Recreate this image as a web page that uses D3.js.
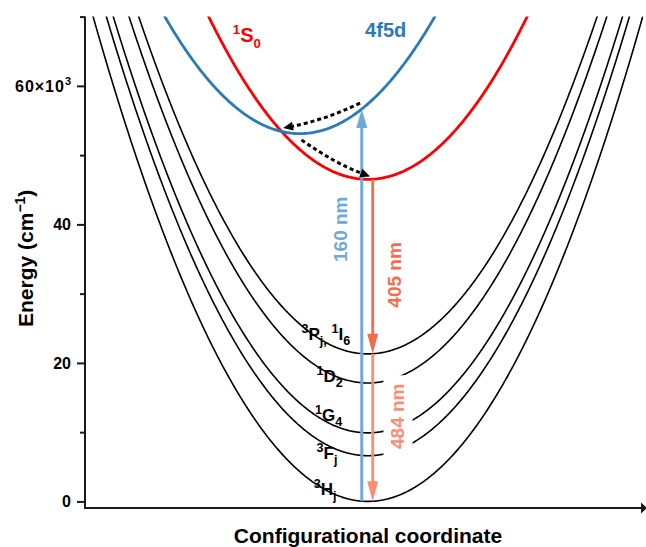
<!DOCTYPE html>
<html>
<head>
<meta charset="utf-8">
<script src="https://cdn.jsdelivr.net/npm/d3@7"></script>
<style>
  body { margin: 0; background: #fff; }
  svg { display: block; }
  text { font-family: Arial, "Liberation Sans", sans-serif; font-weight: bold; }
</style>
</head>
<body>
<svg id="chart" width="646" height="547"></svg>
<script>
// Configurational-coordinate diagram of Pr3+: harmonic potential curves.
// Energies in 10^3 cm^-1, coordinate in arbitrary units.
const groundLevels = ["3H", "3F", "1G", "1D", "3P"];
const groundMinima = [0, 6.6, 9.9, 17.1, 21.3];
const groundCentres = [5.07, 5.07, 5.07, 5.07, 5.07];

const excitedLevels = ["1S0", "4f5d"];
const excitedMinima = [46.5, 53.1];
const excitedCentres = [5.07, 3.85];

const curvature = 2.886;           // shared force constant, 10^3 cm^-1 per unit^2

const majorTicks = [0, 20, 40, 60];
const minorTicks = [10, 30, 50, 70];

// Vertical transitions: label, coordinate, lower level, upper level
const transitionNames = ["160 nm", "405 nm", "484 nm"];
const transitionCoords = [4.96, 5.156, 5.156];
const transitionLower = ["3H", "3P", "3H"];
const transitionUpper = ["4f5d", "1S0", "3P"];

// Non-radiative relaxation paths: start, bend and end as [coordinate, energy]
const relaxStart = [[4.93, 57.5], [3.88, 52.2]];
const relaxBend = [[4.30, 55.1], [4.46, 48.9]];
const relaxEnd = [[3.55, 53.9], [5.11, 46.9]];

// ---------------------------------------------------------------
const plot = { left: 85, right: 643, top: 16.6, bottom: 508 };

const svg = d3.select("#chart");
const x = d3.scaleLinear().domain([0, 10]).range([plot.left, plot.right]);
const y = d3.scaleLinear().domain([-0.95, 70]).range([plot.bottom, plot.top]);

const allLevels = {};
groundLevels.forEach((n, i) => allLevels[n] = { e0: groundMinima[i], q0: groundCentres[i] });
excitedLevels.forEach((n, i) => allLevels[n] = { e0: excitedMinima[i], q0: excitedCentres[i] });
const energy = (name, q) => allLevels[name].e0 + curvature * (q - allLevels[name].q0) ** 2;

svg.append("defs").append("clipPath").attr("id", "plotClip")
  .append("rect")
  .attr("x", plot.left).attr("y", plot.top)
  .attr("width", plot.right - plot.left).attr("height", plot.bottom - plot.top);

const qs = d3.range(0, 10.0001, 0.02);
const line = d3.line().x(d => x(d[0])).y(d => y(d[1]));
const curveData = name => qs.map(q => [q, energy(name, q)]).filter(d => d[1] < 75);

const curves = svg.append("g").attr("clip-path", "url(#plotClip)");

// 4f^2 levels
curves.selectAll("path.ground").data(groundLevels).join("path")
  .attr("class", "ground")
  .attr("d", n => line(curveData(n)))
  .attr("fill", "none").attr("stroke", "#000").attr("stroke-width", 1.6);

// Rich text helper: parts with optional superscript/subscript
function richText(g, parts, size, scale) {
  const t = g.append("text").attr("font-size", size);
  let shift = 0;
  parts.forEach(p => {
    const target = p.k === "sup" ? -0.40 * size : p.k === "sub" ? 0.30 * size : 0;
    t.append("tspan")
      .attr("dy", target - shift)
      .attr("font-size", p.k ? size * scale : size)
      .text(p.t);
    shift = target;
  });
  return t;
}

function rotatedLabel(txt, q, e, color, size, boxed) {
  const g = svg.append("g").attr("transform", `translate(${x(q)},${y(e)}) rotate(-90)`);
  if (boxed) {
    g.append("rect").attr("x", -41).attr("y", -14).attr("width", 82).attr("height", 29)
      .attr("fill", "#fff");
  }
  g.append("text").attr("text-anchor", "middle").attr("dy", "0.36em")
    .attr("font-size", size).attr("fill", color).text(txt);
}

// Excited-state curves
curves.append("path").attr("d", line(curveData("1S0")))
  .attr("fill", "none").attr("stroke", "#ff0000").attr("stroke-width", 2.8);
curves.append("path").attr("d", line(curveData("4f5d")))
  .attr("fill", "none").attr("stroke", "#2a7ab9").attr("stroke-width", 2.8);

// Transition arrows
const transitionColors = ["#6ea9d7", "#f86a4e", "#fc8d75"];
function vArrow(q, e1, e2, color, w, headLen, headW) {
  const px = x(q), y1 = y(e1), y2 = y(e2);
  const dir = y2 > y1 ? 1 : -1;
  svg.append("line").attr("x1", px).attr("x2", px)
    .attr("y1", y1).attr("y2", y2 - dir * headLen * 0.8)
    .attr("stroke", color).attr("stroke-width", w);
  svg.append("path")
    .attr("d", `M${px},${y2} L${px - headW / 2},${y2 - dir * headLen} L${px + headW / 2},${y2 - dir * headLen} Z`)
    .attr("fill", color);
}
transitionNames.forEach((n, i) => {
  const q = transitionCoords[i];
  const lo = energy(transitionLower[i], q), hi = energy(transitionUpper[i], q);
  if (i === 0) vArrow(q, lo, hi, transitionColors[i], 3, 19, 11);
  else vArrow(q, hi, lo, transitionColors[i], 2.8, 20, 11);
});

// Transition labels
const transitionLabelPos = [[4.57, 39.3], [5.54, 32.7], [5.60, 12.3]];
transitionNames.forEach((n, i) =>
  rotatedLabel(n, transitionLabelPos[i][0], transitionLabelPos[i][1], transitionColors[i], 19, i === 2));

// Dotted relaxation arrows
relaxStart.forEach((s, i) => {
  const e = relaxEnd[i], b = relaxBend[i];
  const p0 = [x(s[0]), y(s[1])], p2 = [x(e[0]), y(e[1])], c = [x(b[0]), y(b[1])];
  const ang = Math.atan2(p2[1] - c[1], p2[0] - c[0]);
  const hl = 10, hw = 9;
  const bx = p2[0] - hl * Math.cos(ang), by = p2[1] - hl * Math.sin(ang);
  svg.append("path")
    .attr("d", `M${p0[0]},${p0[1]} Q${c[0]},${c[1]} ${bx},${by}`)
    .attr("fill", "none").attr("stroke", "#000").attr("stroke-width", 3)
    .attr("stroke-dasharray", "4 3");
  const nx = -Math.sin(ang) * hw / 2, ny = Math.cos(ang) * hw / 2;
  svg.append("path")
    .attr("d", `M${p2[0]},${p2[1]} L${bx + nx},${by + ny} L${bx - nx},${by - ny} Z`)
    .attr("fill", "#000");
});

// Level labels
const levelText = {
  "3P": [{ t: "3", k: "sup" }, { t: "P" }, { t: "j,", k: "sub" }, { t: " " }, { t: "1", k: "sup" }, { t: "I" }, { t: "6", k: "sub" }],
  "1D": [{ t: "1", k: "sup" }, { t: "D" }, { t: "2", k: "sub" }],
  "1G": [{ t: "1", k: "sup" }, { t: "G" }, { t: "4", k: "sub" }],
  "3F": [{ t: "3", k: "sup" }, { t: "F" }, { t: "j", k: "sub" }],
  "3H": [{ t: "3", k: "sup" }, { t: "H" }, { t: "j", k: "sub" }],
  "1S0": [{ t: "1", k: "sup" }, { t: "S" }, { t: "0", k: "sub" }],
  "4f5d": [{ t: "4f5d" }]
};
const levelLabelPos = {
  "3P": [3.88, 23.3], "1D": [4.15, 17.2], "1G": [4.12, 11.6], "3F": [4.15, 6.15],
  "3H": [4.10, 0.95], "1S0": [2.65, 66.4], "4f5d": [5.02, 67.0]
};
const levelColors = { "1S0": "#ff0000", "4f5d": "#2a7ab9" };
Object.keys(levelText).forEach(n => {
  const g = svg.append("g").attr("transform", `translate(${x(levelLabelPos[n][0])},${y(levelLabelPos[n][1])})`);
  const big = n === "1S0" || n === "4f5d";
  richText(g, levelText[n], big ? 20 : 17, big ? 0.66 : 0.74).attr("fill", levelColors[n] || "#000");
});

// Axes
const axisColor = "#1a1a1a";
svg.append("line").attr("x1", plot.left).attr("x2", plot.left)
  .attr("y1", plot.top).attr("y2", plot.bottom + 1)
  .attr("stroke", axisColor).attr("stroke-width", 2);
svg.append("line").attr("x1", plot.left - 1).attr("x2", 642)
  .attr("y1", plot.bottom).attr("y2", plot.bottom)
  .attr("stroke", axisColor).attr("stroke-width", 2);
svg.append("path")
  .attr("d", `M641,${plot.bottom - 5.5} L647,${plot.bottom} L641,${plot.bottom + 5.5} Z`)
  .attr("fill", axisColor);

const yAxis = d3.axisLeft(y).tickValues(majorTicks).tickSize(8).tickFormat(d => d === 60 ? "" : d);
const ya = svg.append("g").attr("transform", `translate(${plot.left},0)`).call(yAxis);
ya.select(".domain").remove();
ya.selectAll(".tick line").attr("stroke", axisColor).attr("stroke-width", 2);
ya.selectAll(".tick text").attr("font-size", 16).attr("x", -14).attr("fill", "#000")
  .attr("font-family", null);
const yMinor = d3.axisLeft(y).tickValues(minorTicks).tickSize(5).tickFormat("");
const ym = svg.append("g").attr("transform", `translate(${plot.left},0)`).call(yMinor);
ym.select(".domain").remove();
ym.selectAll(".tick line").attr("stroke", axisColor).attr("stroke-width", 2);

// 60×10³ label with exponent
const topTick = svg.append("g").attr("transform", `translate(${plot.left - 14},${y(60)})`);
const tt = topTick.append("text").attr("text-anchor", "end").attr("dy", "0.36em").attr("font-size", 16);
tt.append("tspan").text("60×10");
tt.append("tspan").attr("font-size", 11).attr("dy", -7).text("3");
tt.attr("textLength", 56);

// Axis titles
const yTitle = svg.append("text")
  .attr("transform", `translate(33,${(plot.top + plot.bottom) / 2 - 4}) rotate(-90)`)
  .attr("text-anchor", "middle").attr("font-size", 21);
yTitle.append("tspan").text("Energy (cm");
yTitle.append("tspan").attr("font-size", 14).attr("dy", -8).text("−1");
yTitle.append("tspan").attr("dy", 8).text(")");

svg.append("text").attr("x", 368).attr("y", 543).attr("text-anchor", "middle")
  .attr("font-size", 21).text("Configurational coordinate");
</script>
</body>
</html>
